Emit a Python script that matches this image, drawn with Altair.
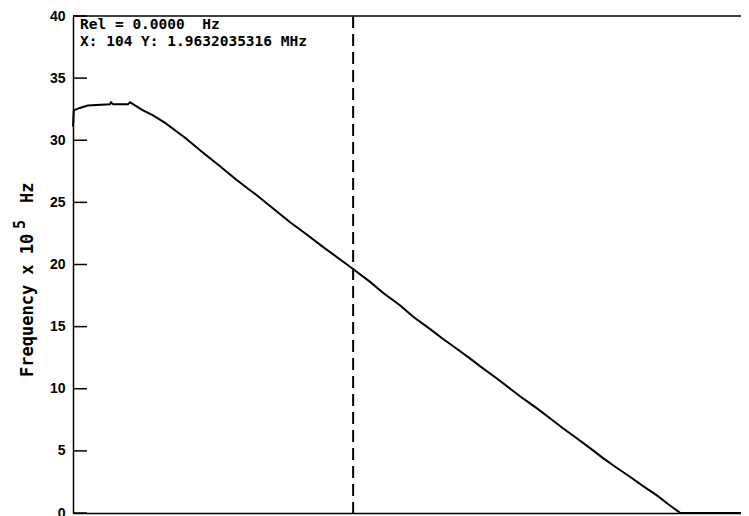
import altair as alt
import pandas as pd

# sample index (x) and frequency (x 10^5 Hz)
x_vals = [0, 0.3, 2.5, 5.5, 13.7, 14.1, 14.9, 20.4, 21.2, 22.3,
          23.0, 26.0, 29.7, 34.2, 41.6, 48.3, 54.6, 60.2, 65.0, 66.9,
          74.3, 80.6, 86.9, 92.9, 99.2, 103.6, 110.3, 115.2, 121.5, 126.3,
          132.6, 137.4, 142.6, 148.2, 151.2, 157.5, 162.3, 167.2, 172.4, 177.2,
          182.0, 186.5, 192.1, 196.9, 202.1, 206.9, 211.4, 216.9, 221.0, 225.5,
          248]
freq = [31.1, 32.4, 32.6, 32.8, 32.9, 33.05, 32.9, 32.9, 33.05, 32.9,
        32.8, 32.4, 32.0, 31.4, 30.2, 29.0, 27.9, 26.9, 26.1, 25.8,
        24.5, 23.4, 22.4, 21.4, 20.4, 19.7, 18.6, 17.7, 16.7, 15.8,
        14.8, 14.0, 13.2, 12.3, 11.8, 10.8, 10.0, 9.2, 8.4, 7.6,
        6.8, 6.1, 5.2, 4.4, 3.6, 2.9, 2.2, 1.4, 0.7, 0.0,
        0.0]
y_ticks = [0, 5, 10, 15, 20, 25, 30, 35, 40]
cursor_x = 104
x_max = 248
y_max = 40
readout_1 = "Rel = 0.0000\u00a0\u00a0Hz"
readout_2 = "X: 104 Y: 1.9632035316 MHz"

df = pd.DataFrame({"x": x_vals, "f": freq})
ticks_df = pd.DataFrame({"t": y_ticks})

xs = alt.Scale(domain=[0, x_max], nice=False, zero=False)
ys = alt.Scale(domain=[0, y_max], nice=False)

line = alt.Chart(df).mark_line(color="black", strokeWidth=2, interpolate="linear").encode(
    x=alt.X("x:Q", scale=xs,
            axis=alt.Axis(title=None, labels=False, ticks=False, grid=False,
                          domainColor="black", domainWidth=1.5)),
    y=alt.Y("f:Q", scale=ys,
            axis=alt.Axis(title=None, values=y_ticks, ticks=False, grid=False,
                          domainColor="black", domainWidth=1.5,
                          labelFont="Liberation Sans", labelFontWeight="bold",
                          labelFontSize=14, labelColor="black", labelPadding=8)),
)

tick_marks = alt.Chart(ticks_df).mark_rule(color="black", strokeWidth=1.5).encode(
    y=alt.Y("t:Q", scale=ys),
    x=alt.value(0),
    x2=alt.value(14),
)

top_line = alt.Chart().mark_rule(color="black", strokeWidth=1.5).encode(
    y=alt.datum(y_max, scale=ys)
)

cursor = alt.Chart().mark_rule(color="black", strokeWidth=2, strokeDash=[12, 6]).encode(
    x=alt.datum(cursor_x, scale=xs)
)

txt_style = dict(font="DejaVu Sans Mono", fontSize=14.5, fontWeight="bold", color="black",
                 align="left", baseline="alphabetic")
t1 = alt.Chart().mark_text(text=readout_1, **txt_style).encode(
    x=alt.value(7), y=alt.value(13))
t2 = alt.Chart().mark_text(text=readout_2, **txt_style).encode(
    x=alt.value(7), y=alt.value(30))

title_style = dict(font="DejaVu Sans Mono", fontWeight="bold", color="black", align="left",
                   baseline="alphabetic", angle=270)
ttl1 = alt.Chart().mark_text(text="Frequency x 10", fontSize=17, **title_style).encode(
    x=alt.value(-40), y=alt.value(361))
ttl2 = alt.Chart().mark_text(text="5", fontSize=15, **title_style).encode(
    x=alt.value(-48), y=alt.value(213))
ttl3 = alt.Chart().mark_text(text="Hz", fontSize=17, **title_style).encode(
    x=alt.value(-40), y=alt.value(187))

chart = alt.layer(line, tick_marks, top_line, cursor, t1, t2, ttl1, ttl2, ttl3).properties(
    width=668, height=497,
    autosize=alt.AutoSizeParams(type="none"),
    padding={"left": 65, "top": 8, "right": 0, "bottom": 3},
    background="white",
).configure_view(stroke=None)

chart.save("out.html", embed_options={"renderer": "svg", "actions": False})
